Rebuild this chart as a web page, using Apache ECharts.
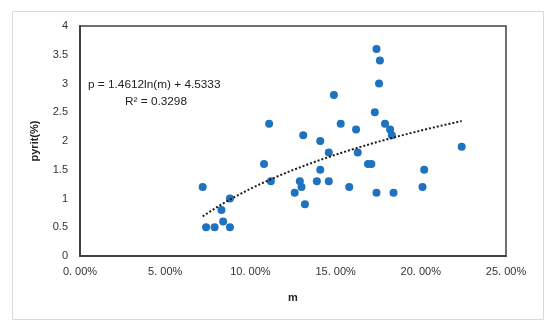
<!DOCTYPE html>
<html>
<head>
<meta charset="utf-8">
<script src="https://cdn.jsdelivr.net/npm/echarts@6/dist/echarts.min.js"></script>
<style>html,body{margin:0;padding:0;background:#fff;}#c{width:550px;height:327px;}</style>
</head>
<body>
<div id="c"></div>
<script>
// m (%) and pyrit (%) values
var mValues = [7.2, 7.4, 7.9, 8.4, 8.3, 8.8, 8.8, 10.8, 11.1, 11.2, 12.6, 12.9, 13.0, 13.1, 13.2, 13.9, 14.1, 14.1, 14.6, 14.6, 14.9, 15.3, 15.8, 16.2, 16.3, 16.9, 17.1, 17.3, 17.4, 17.4, 17.55, 17.6, 17.9, 18.2, 18.3, 18.4, 20.1, 20.2, 22.4];
var pyritValues = [1.2, 0.5, 0.5, 0.6, 0.8, 0.5, 1.0, 1.6, 2.3, 1.3, 1.1, 1.3, 1.2, 2.1, 0.9, 1.3, 2.0, 1.5, 1.8, 1.3, 2.8, 2.3, 1.2, 2.2, 1.8, 1.6, 1.6, 2.5, 3.6, 1.1, 3.0, 3.4, 2.3, 2.2, 2.1, 1.1, 1.2, 1.5, 1.9];
var xTicks = [0, 5, 10, 15, 20, 25];
var yTicks = [0, 0.5, 1, 1.5, 2, 2.5, 3, 3.5, 4];
var trendA = 1.4612, trendB = 4.5333;
var eqText = 'p = 1.4612ln(m) + 4.5333';
var r2Text = 'R\u00b2 = 0.3298';
var xName = 'm', yName = 'pyrit(%)';

var points = mValues.map(function (m, i) { return [m, pyritValues[i]]; });
var xmin = Math.min.apply(null, mValues), xmax = Math.max.apply(null, mValues);
var trend = [];
for (var k = 0; k <= 60; k++) {
  var xv = xmin + (xmax - xmin) * k / 60;
  trend.push([xv, trendA * Math.log(xv / 100) + trendB]);
}

var chart = echarts.init(document.getElementById('c'));
chart.setOption({
  animation: false,
  backgroundColor: '#fff',
  grid: { left: 80, right: 44, top: 26, bottom: 71, show: true, borderColor: '#404040', borderWidth: 1.5, backgroundColor: 'transparent' },
  xAxis: {
    type: 'value', min: xTicks[0], max: xTicks[xTicks.length - 1], interval: 5,
    name: xName, nameLocation: 'middle', nameGap: 36,
    nameTextStyle: { fontFamily: 'Liberation Sans', fontWeight: 'bold', fontSize: 11, color: '#222' },
    axisLine: { show: true, lineStyle: { color: '#404040', width: 2 } },
    axisTick: { show: false },
    splitLine: { show: false },
    axisLabel: { margin: 10, fontFamily: 'Liberation Sans', fontSize: 11, color: '#333',
      formatter: function (v) { return v.toFixed(2).replace('.', '. ') + '%'; } }
  },
  yAxis: {
    type: 'value', min: yTicks[0], max: yTicks[yTicks.length - 1], interval: 0.5,
    name: yName, nameLocation: 'middle', nameGap: 40, nameRotate: 90,
    nameTextStyle: { fontFamily: 'Liberation Sans', fontWeight: 'bold', fontSize: 11, color: '#222' },
    axisLine: { show: true, lineStyle: { color: '#404040', width: 2 } },
    axisTick: { show: false },
    splitLine: { show: false },
    axisLabel: { margin: 12, fontFamily: 'Liberation Sans', fontSize: 11, color: '#333' }
  },
  graphic: [
    { type: 'rect', left: 10, top: 9, shape: { width: 531, height: 308 }, style: { fill: 'none', stroke: '#d9d9d9', lineWidth: 1 }, z: -1 },
    { type: 'text', left: 88, top: 79, style: { text: eqText, font: '11.8px "Liberation Sans"', fill: '#222' } },
    { type: 'text', left: 125, top: 96, style: { text: r2Text, font: '11.8px "Liberation Sans"', fill: '#222' } }
  ],
  series: [
    { type: 'scatter', data: points, symbolSize: 8, itemStyle: { color: '#1f72bd', opacity: 1 }, z: 3 },
    { type: 'line', data: trend, showSymbol: false, symbol: 'none', smooth: false,
      lineStyle: { type: 'dotted', width: 2, color: '#1a1a1a' }, z: 4 }
  ]
});
</script>
</body>
</html>
